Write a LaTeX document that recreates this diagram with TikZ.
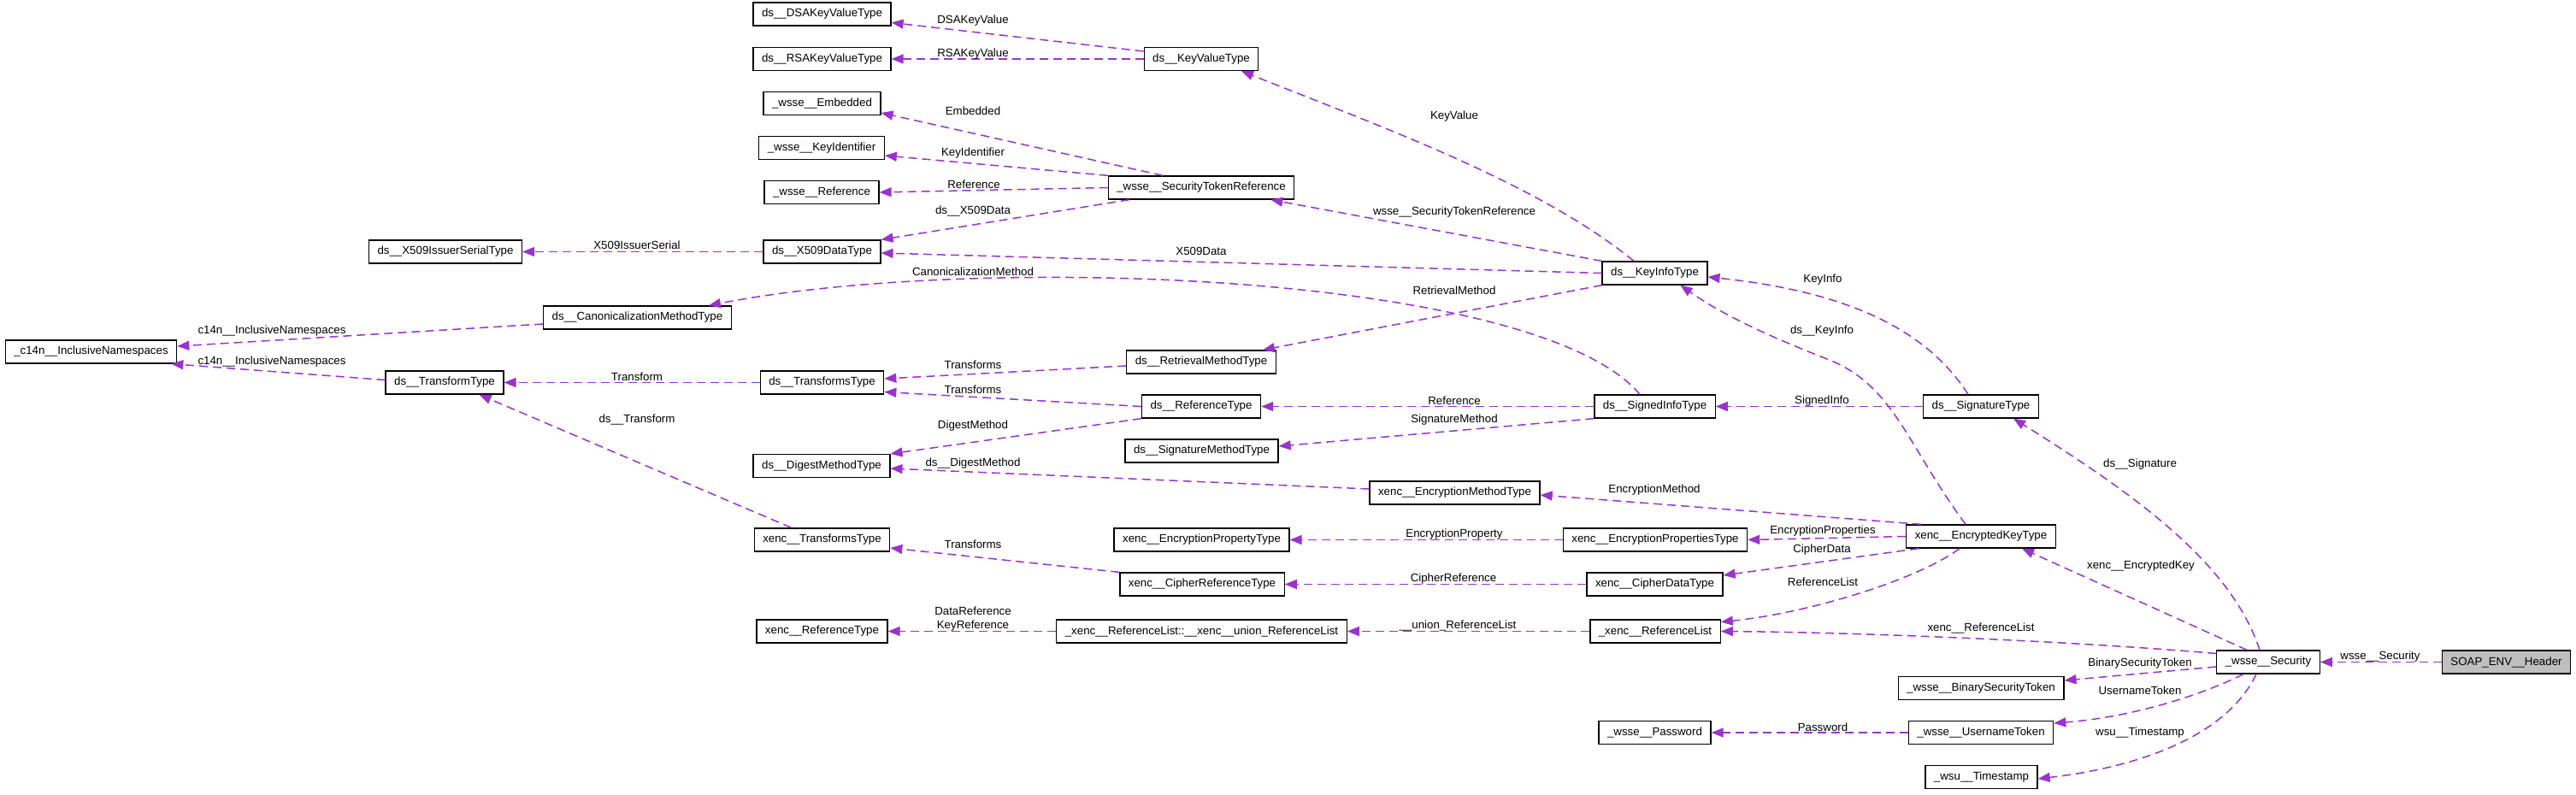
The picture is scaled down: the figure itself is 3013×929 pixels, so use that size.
\documentclass[tikz,border=0pt]{standalone}
\usepackage{fontspec}
\setmainfont{Liberation Sans}
\usetikzlibrary{arrows.meta}
\definecolor{orchid}{HTML}{9A32CD}
\definecolor{rootgray}{HTML}{BFBFBF}

\begin{document}
\begin{tikzpicture}[x=1pt,y=-1pt,>={Triangle[length=14pt,width=11pt]},
  font=\fontsize{13.3}{16}\selectfont,
  class node/.style={draw,rectangle,line width=1.3pt,fill=white,inner xsep=10pt,inner ysep=0pt,minimum height=27pt},
  root node/.style={class node,fill=rootgray},
  uses/.style={->,draw=orchid,line width=1.5pt,dash pattern=on 10pt off 6pt},
  role/.style={inner sep=1pt,text=black}]

  \useasboundingbox (0,0) rectangle (3013,929);

  % left columns
  \node[class node] (incl)       at (106.5,411.5) {\_c14n\_\_InclusiveNamespaces};
  \node[class node] (xissuer)    at (521,294.5)   {ds\_\_X509IssuerSerialType};
  \node[class node] (transform)  at (520,447.5)   {ds\_\_TransformType};
  \node[class node] (canon)      at (745.5,371.5) {ds\_\_CanonicalizationMethodType};

  \node[class node] (dsakv)      at (961.5,16.5)  {ds\_\_DSAKeyValueType};
  \node[class node] (rsakv)      at (961.5,69)    {ds\_\_RSAKeyValueType};
  \node[class node] (embedded)   at (961.5,121)   {\_wsse\_\_Embedded};
  \node[class node] (keyid)      at (961,173)     {\_wsse\_\_KeyIdentifier};
  \node[class node] (wsseref)    at (961,225)     {\_wsse\_\_Reference};
  \node[class node] (xdata)      at (961.5,294.5) {ds\_\_X509DataType};
  \node[class node] (transforms) at (961.5,447.5) {ds\_\_TransformsType};
  \node[class node] (digest)     at (961,545)     {ds\_\_DigestMethodType};
  \node[class node] (xtransforms) at (961.5,631.5) {xenc\_\_TransformsType};
  \node[class node] (xreftype)   at (961.5,738.5) {xenc\_\_ReferenceType};

  % middle columns
  \node[class node] (keyvalue)   at (1405,69)     {ds\_\_KeyValueType};
  \node[class node] (sectokref)  at (1405,219.5)  {\_wsse\_\_SecurityTokenReference};
  \node[class node] (retrieval)  at (1405,423.5)  {ds\_\_RetrievalMethodType};
  \node[class node] (reftype)    at (1405,475.5)  {ds\_\_ReferenceType};
  \node[class node] (sigmethod)  at (1405.5,527.5) {ds\_\_SignatureMethodType};
  \node[class node] (encprop)    at (1405.5,631.5) {xenc\_\_EncryptionPropertyType};
  \node[class node] (cipherref)  at (1406,683.5)  {xenc\_\_CipherReferenceType};
  \node[class node] (unionref)   at (1405.5,738.5) {\_xenc\_\_ReferenceList::\_\_xenc\_\_union\_ReferenceList};
  \node[class node] (encmethod)  at (1701.5,576.5) {xenc\_\_EncryptionMethodType};

  \node[class node] (keyinfo)    at (1935.5,319.5) {ds\_\_KeyInfoType};
  \node[class node] (signedinfo) at (1935.5,475.5) {ds\_\_SignedInfoType};
  \node[class node] (encprops)   at (1936,631.5)  {xenc\_\_EncryptionPropertiesType};
  \node[class node] (cipherdata) at (1935.5,683.5) {xenc\_\_CipherDataType};
  \node[class node] (reflist)    at (1936,738.5)  {\_xenc\_\_ReferenceList};
  \node[class node] (password)   at (1935.5,857)  {\_wsse\_\_Password};

  % right columns
  \node[class node] (signature)  at (2317,475.5)  {ds\_\_SignatureType};
  \node[class node] (enckey)     at (2317,627.5)  {xenc\_\_EncryptedKeyType};
  \node[class node] (binsec)     at (2317,805)    {\_wsse\_\_BinarySecurityToken};
  \node[class node] (username)   at (2317,857)    {\_wsse\_\_UsernameToken};
  \node[class node] (timestamp)  at (2317.5,909)  {\_wsu\_\_Timestamp};
  \node[class node] (security)   at (2653,774.5)  {\_wsse\_\_Security};
  \node[root node]  (header)     at (2931.5,774.5) {SOAP\_ENV\_\_Header};

  % key value and token reference
  \draw[uses] ([yshift=9pt]keyvalue.west) -- ([yshift=-10pt]dsakv.east) node[role] at (1138,24) {DSAKeyValue};
  \draw[uses] (keyvalue.west) -- (rsakv.east) node[role] at (1138,63) {RSAKeyValue};
  \draw[uses] ([xshift=-45pt]sectokref.north) -- ([yshift=-11pt]embedded.east) node[role] at (1138,130) {Embedded};
  \draw[uses] (sectokref.north west) -- ([yshift=-9pt]keyid.east) node[role] at (1138,179) {KeyIdentifier};
  \draw[uses] (sectokref.west) -- (wsseref.east) node[role] at (1139,216) {Reference};
  \draw[uses] ([xshift=25pt]sectokref.south west) -- (xdata.north east) node[role] at (1138,247) {ds\_\_X509Data};
  \draw[uses] (xdata.west) -- (xissuer.east) node[role] at (745,287) {X509IssuerSerial};

  % key info
  \draw[uses] ([xshift=-24.5pt]keyinfo.north) .. controls (1800,215) and (1620,150) .. ([xshift=47pt]keyvalue.south) node[role] at (1701,136) {KeyValue};
  \draw[uses] (keyinfo.north west) -- ([xshift=-28pt]sectokref.south east) node[role] at (1701,248) {wsse\_\_SecurityTokenReference};
  \draw[uses] (keyinfo.west) -- ([yshift=-1.5pt]xdata.east) node[role] at (1405,294) {X509Data};
  \draw[uses] (keyinfo.south west) -- ([xshift=-16pt]retrieval.north east) node[role] at (1701,340) {RetrievalMethod};

  % signed info and transforms
  \draw[uses] ([xshift=-17.5pt]signedinfo.north) .. controls (1800,320) and (1150,295) .. ([xshift=-27pt]canon.north east) node[role] at (1138,318) {CanonicalizationMethod};
  \draw[uses] ([yshift=-4.5pt]retrieval.west) -- ([yshift=4.5pt]transforms.east) node[role] at (1138,427) {Transforms};
  \draw[uses] (reftype.west) -- ([yshift=-11pt]transforms.east) node[role] at (1138,456) {Transforms};
  \draw[uses] (transforms.west) -- (transform.east) node[role] at (745,441) {Transform};
  \draw[uses] ([yshift=3pt]transform.west) -- ([xshift=-7pt]incl.south east) node[role] at (318,423) {c14n\_\_InclusiveNamespaces};
  \draw[uses] ([yshift=-7.5pt]canon.west) -- ([yshift=6.5pt]incl.east) node[role] at (318,387) {c14n\_\_InclusiveNamespaces};
  \draw[uses] ([xshift=44pt]xtransforms.north west) -- ([xshift=-29pt]transform.south east) node[role] at (745,491) {ds\_\_Transform};
  \draw[uses] (signedinfo.west) -- (reftype.east) node[role] at (1701,469) {Reference};
  \draw[uses] (signedinfo.south west) -- ([yshift=5.5pt]sigmethod.east) node[role] at (1701,491) {SignatureMethod};
  \draw[uses] (reftype.south west) -- (digest.north east) node[role] at (1138,498) {DigestMethod};
  \draw[uses] ([yshift=4.5pt]encmethod.west) -- ([yshift=-3pt]digest.east) node[role] at (1138,542) {ds\_\_DigestMethod};

  % encrypted key
  \draw[uses] ([xshift=18pt]enckey.north west) -- ([yshift=-2.5pt]encmethod.east) node[role] at (1935,573) {EncryptionMethod};
  \draw[uses] (encprops.west) -- (encprop.east) node[role] at (1701,625) {EncryptionProperty};
  \draw[uses] (enckey.west) -- (encprops.east) node[role] at (2132,621) {EncryptionProperties};
  \draw[uses] ([xshift=15pt]enckey.south west) -- ([yshift=10.5pt]cipherdata.east) node[role] at (2131,643) {CipherData};
  \draw[uses] (cipherdata.west) -- (cipherref.east) node[role] at (1700,677) {CipherReference};
  \draw[uses] (cipherref.north west) -- ([yshift=-9.5pt]xtransforms.east) node[role] at (1138,637) {Transforms};
  \draw[uses] ([xshift=-25pt]enckey.south) .. controls (2240,680) and (2110,718) .. ([yshift=11pt]reflist.east) node[role] at (2132,681) {ReferenceList};
  \draw[uses] (reflist.west) -- (unionref.east) node[role] at (1705,732) {\_\_union\_ReferenceList};
  \draw[uses] (unionref.west) -- (xreftype.east) node[role,align=center] at (1138,724) {DataReference\\KeyReference};
  \draw[uses] ([xshift=-18pt]enckey.north) .. controls (2230,520) and (2215,450) .. (2137,420) .. controls (2060,390) and (2010,365) .. ([xshift=30pt]keyinfo.south) node[role] at (2131,387) {ds\_\_KeyInfo};

  % signature
  \draw[uses] ([xshift=-15pt]signature.north) .. controls (2250,380) and (2150,340) .. ([yshift=-4.5pt]keyinfo.east) node[role] at (2132,327) {KeyInfo};
  \draw[uses] (signature.west) -- (signedinfo.east) node[role] at (2131,469) {SignedInfo};

  % security header
  \draw[uses] ([xshift=-10pt]security.north) .. controls (2610,660) and (2500,580) .. ([xshift=38pt]signature.south) node[role] at (2503,543) {ds\_\_Signature};
  \draw[uses] ([xshift=-25pt]security.north) -- ([xshift=-40pt]enckey.south east) node[role] at (2504,662) {xenc\_\_EncryptedKey};
  \draw[uses] ([yshift=10pt]security.west) .. controls (2450,752) and (2200,740) .. (reflist.east) node[role] at (2317,735) {xenc\_\_ReferenceList};
  \draw[uses] ([yshift=-5.5pt]security.west) -- ([yshift=9pt]binsec.east) node[role] at (2503,776) {BinarySecurityToken};
  \draw[uses] ([xshift=-29pt]security.south) .. controls (2560,820) and (2480,840) .. ([yshift=11pt]username.east) node[role] at (2503,808) {UsernameToken};
  \draw[uses] ([xshift=-14pt]security.south) .. controls (2600,870) and (2480,900) .. ([yshift=-2pt]timestamp.east) node[role] at (2503,857) {wsu\_\_Timestamp};
  \draw[uses] (username.west) -- (password.east) node[role] at (2132,851) {Password};
  \draw[uses] (header.west) -- (security.east) node[role] at (2784,768) {wsse\_\_Security};
\end{tikzpicture}
\end{document}
